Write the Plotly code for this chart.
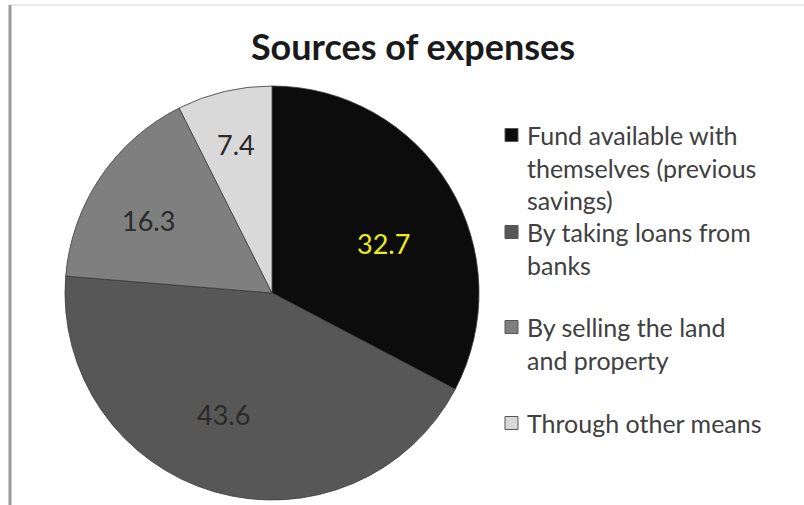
import math
import plotly.graph_objects as go

# Shares of expense sources (%)
categories = [
    "Fund available with<br>themselves (previous<br>savings)",
    "By taking loans from<br>banks",
    "By selling the land<br>and property",
    "Through other means",
]
values = [32.7, 43.6, 16.3, 7.4]
slice_colors = ["#0c0c0c", "#575757", "#7f7f7f", "#d9d9d9"]
label_colors = ["#ecec1c", "#2a2a2a", "#2a2a2a", "#2a2a2a"]
# value-label placement: fraction of radius and angular nudge (deg) per slice
label_radius = [0.59, 0.63, 0.69, 0.74]
label_nudge = [7.0, 5.5, -3.5, -0.3]

W, H = 804, 505
FONT = "Lato"

# pie geometry in pixels
cx, cy, R = 272, 293, 207

fig = go.Figure(
    go.Pie(
        labels=[c.replace("<br>", " ") for c in categories],
        values=values,
        sort=False,
        direction="clockwise",
        rotation=0,
        marker=dict(colors=slice_colors, line=dict(color="#3a3a3a", width=0.8)),
        textinfo="none",
        domain=dict(x=[(cx - R) / W, (cx + R) / W],
                    y=[(H - cy - R) / H, (H - cy + R) / H]),
        showlegend=False,
        hoverinfo="label+value",
    )
)

annotations = []
shapes = []

# Value labels, placed at each slice's angular midpoint
total = sum(values)
cum = 0.0
for v, col, rf, nd in zip(values, label_colors, label_radius, label_nudge):
    mid = (cum + v / 2) / total * 360 + nd
    cum += v
    px = cx + rf * R * math.sin(math.radians(mid))
    py = cy - rf * R * math.cos(math.radians(mid))
    annotations.append(dict(
        text=f"{v}", xref="paper", yref="paper", x=px / W, y=1 - py / H,
        xanchor="center", yanchor="middle", showarrow=False,
        font=dict(family=FONT, size=27, color=col),
    ))

# Legend drawn as square swatches with wrapped labels
legend_centers = [135, 232, 327, 423]  # pixel centre of each entry's first line
for cat, col, c in zip(categories, slice_colors, legend_centers):
    shapes.append(dict(
        type="rect", xref="paper", yref="paper",
        x0=505 / W, x1=518 / W, y0=1 - (c + 6.5) / H, y1=1 - (c - 6.5) / H,
        fillcolor=col, line=dict(color="#555555", width=1),
    ))
    annotations.append(dict(
        text=cat, xref="paper", yref="paper", x=525 / W, y=1 - (c - 17) / H,
        xanchor="left", yanchor="top", align="left", showarrow=False,
        font=dict(family=FONT, size=25, color="#404040"),
    ))

# Chart frame edges
shapes.append(dict(type="line", xref="paper", yref="paper",
                   x0=10 / W, x1=1, y0=1 - 5 / H, y1=1 - 5 / H,
                   line=dict(color="#d4d4d4", width=1)))
shapes.append(dict(type="line", xref="paper", yref="paper",
                   x0=10 / W, x1=10 / W, y0=0, y1=1 - 5 / H,
                   line=dict(color="#9a9a9a", width=3)))

fig.update_layout(
    width=W, height=H,
    margin=dict(l=0, r=0, t=0, b=0),
    paper_bgcolor="white",
    title=dict(text="<b>Sources of expenses</b>", x=413 / W, xanchor="center",
               y=1 - 47 / H, yanchor="middle",
               font=dict(family=FONT, size=36, color="#1a1a1a")),
    shapes=shapes,
    annotations=annotations,
)

fig.write_html("out.html")
